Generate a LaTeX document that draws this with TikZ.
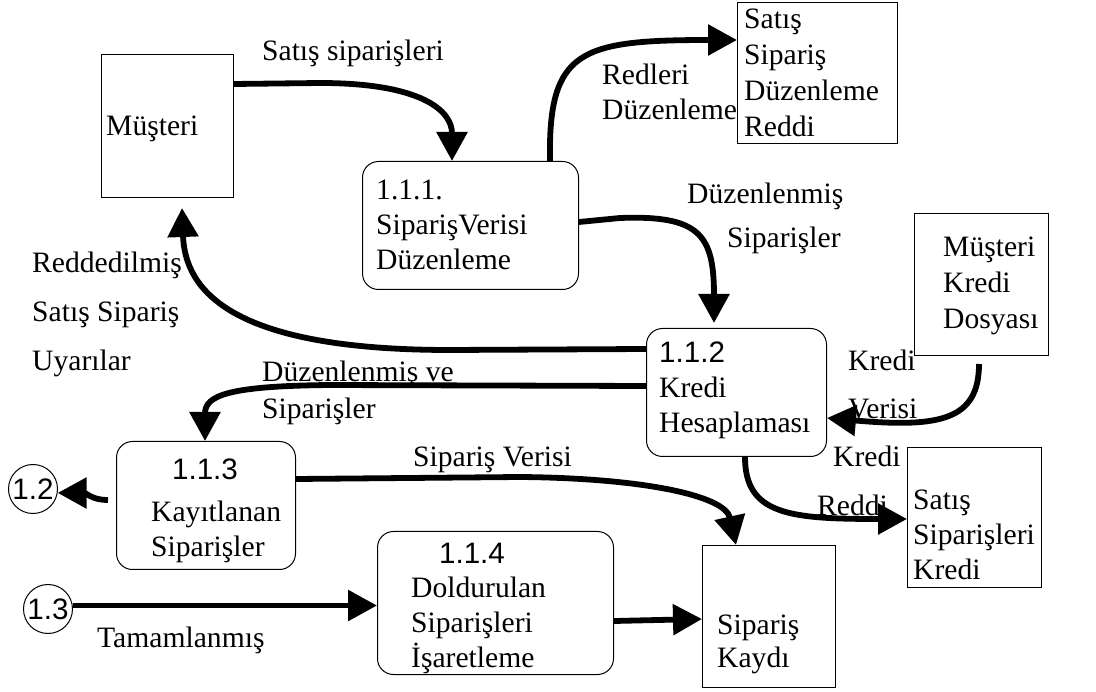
\documentclass[tikz,border=0pt]{standalone}
\usepackage{fontspec}
\setmainfont{Liberation Serif}
\newfontfamily\arialf{Liberation Sans}
\usetikzlibrary{arrows.meta}
\begin{document}
\begin{tikzpicture}[x=1pt,y=-1pt,
 box/.style={draw, line width=1pt, rectangle, inner sep=0pt, anchor=north west},
 proc/.style={box, rounded corners=16pt},
 txt/.style={inner sep=0pt, anchor=west, align=left, font=\fontsize{29.6}{#1}\selectfont},
 txt/.default=35,
 num/.style={inner sep=0pt, anchor=center, font=\fontsize{29.6}{35}\selectfont\arialf},
 conn/.style={draw, circle, line width=1pt, inner sep=0pt, minimum size=49pt, font=\fontsize{29.6}{35}\selectfont\arialf},
 flow/.style={line width=5.8pt, -{Triangle[length=29pt,width=30pt]}}
]
\useasboundingbox (0,0) rectangle (1096,692);

% boxes
\node[box, minimum width=132pt, minimum height=143pt] (mus) at (101,54) {};
\node[proc, minimum width=216pt, minimum height=128pt] (p111) at (362,161) {};
\node[box, minimum width=160pt, minimum height=141pt] (ssdr) at (737,2) {};
\node[box, minimum width=134pt, minimum height=142pt] (mkd) at (914,213) {};
\node[proc, minimum width=180pt, minimum height=128pt] (p112) at (646,328) {};
\node[box, minimum width=134pt, minimum height=140pt] (ssk) at (907,447) {};
\node[box, minimum width=133pt, minimum height=142pt] (sk) at (702,545) {};
\node[proc, minimum width=179pt, minimum height=128pt] (p113) at (116,441) {};
\node[proc, minimum width=236pt, minimum height=143pt] (p114) at (377,531) {};
\node[conn] (c12) at (33,489) {1.2};
\node[conn] (c13) at (48,609) {1.3};

% texts in boxes
\node[txt] (tmus) at (106,129) {Müşteri};
\node[txt] (t111) at (376,225) {1.1.1.\\SiparişVerisi\\Düzenleme};
\node[txt=36] (tssdr) at (744,73) {Satış\\Sipariş\\Düzenleme\\Reddi};
\node[txt=36] (tmkd) at (943,286) {Müşteri\\Kredi\\Dosyası};
\node[txt] (t112) at (659,390) {{\arialf 1.1.2}\\Kredi\\Hesaplaması};
\node[num] (n113) at (205,469) {1.1.3};
\node[txt] (t113) at (151,532) {Kayıtlanan\\Siparişler};
\node[num] (n114) at (472,553) {1.1.4};
\node[txt] (t114) at (411,625) {Doldurulan\\Siparişleri\\İşaretleme};
\node[txt] (tssk) at (913,535) {Satış\\Siparişleri\\Kredi};
\node[txt=33] (tsk) at (717,644) {Sipariş\\Kaydı};

% connector labels
\node[txt] (l1) at (353,53) [anchor=center] {Satış siparişleri};
\node[txt] (l2) at (602,92) {Redleri\\Düzenleme};
\node[txt] (l3a) at (687,196) {Düzenlenmiş};
\node[txt] (l3b) at (727,240) {Siparişler};
\node[txt=49] (l4) at (32,314) {Reddedilmiş\\Satış Sipariş\\Uyarılar};
\node[txt=37] (l5) at (262,393) {Düzenlenmiş ve\\Siparişler};
\node[txt] (l7) at (413,460) {Sipariş Verisi};
\node[txt] (l8) at (97,640) {Tamamlanmış};
\node[txt=48] (l10) at (848,384) {Kredi\\Verisi};
\node[txt] (l11a) at (833,456) {Kredi};
\node[txt] (l11b) at (817,505) {Reddi};

% connectors
\draw[flow] (mus.east |- 0,84) -- (320,83) .. controls (420,83) and (452,110) .. (p111.north -| 452,0);
\draw[flow] (p111.north -| 550,0) .. controls (548,50) and (580,40) .. (ssdr.west |- 0,40);
\draw[flow] (p111.east |- 0,222) -- (620,218) .. controls (700,215) and (714,235) .. ([yshift=5pt]p112.north -| 714,0);
\draw[flow] (p112.west |- 0,349) -- (450,350) .. controls (230,350) and (185,290) .. ([yshift=-10pt]mus.south -| 182,0);
\draw[flow] (p112.west |- 0,386) -- (330,385) .. controls (230,386) and (205,395) .. (p113.north -| 205,0);
\draw[flow] ([xshift=-8pt]p113.west |- 0,500) .. controls (92,500) and (86,493) .. (c12.-9);
\draw[flow] (p113.east |- 0,479) -- (520,477) .. controls (640,478) and (725,495) .. (sk.north -| 736,0);
\draw[flow] (c13.8) -- (p114.west |- c13.8);
\draw[flow] (p114.east |- 0,621) -- (sk.west |- 0,619);
\draw[flow] ([yshift=-8pt]mkd.south -| 979,0) .. controls (979,420) and (940,428) .. (p112.east |- 0,418);
\draw[flow] (p112.south -| 745,0) .. controls (745,515) and (790,519) .. (ssk.west |- 0,519);
\end{tikzpicture}
\end{document}
